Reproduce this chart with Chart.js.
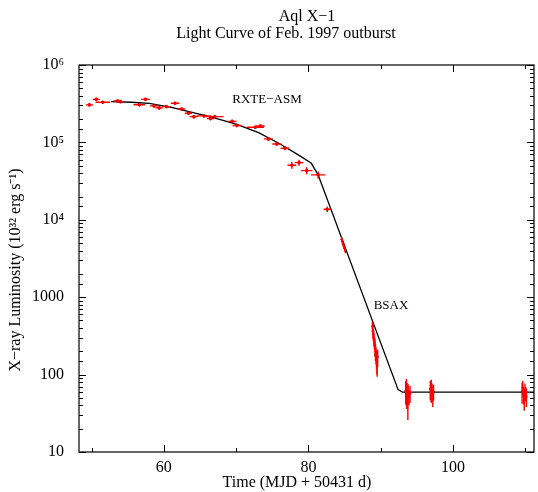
<!DOCTYPE html>
<html>
<head>
<meta charset="utf-8">
<script src="https://cdn.jsdelivr.net/npm/chart.js@4.4.1/dist/chart.umd.min.js"></script>
<style>
  body { margin: 0; background: #fff; }
</style>
</head>
<body>
<canvas id="myChart" width="538" height="492"></canvas>
<script>
// RXTE-ASM points (time, luminosity, errors)
var asmTime = [49.7, 50.65, 51.55, 53.6, 54.0, 56.6, 57.45, 58.65, 59.35, 60.35, 61.55, 62.45, 63.4, 64.15, 65.55, 66.45, 67.05, 69.45, 70.1, 72.65, 73.35, 74.45, 75.6, 76.75, 77.7, 78.7, 79.75, 81.35, 82.6];
var asmLum = [3.05e5, 3.6e5, 3.3e5, 3.43e5, 3.36e5, 3.07e5, 3.6e5, 2.96e5, 2.79e5, 2.9e5, 3.2e5, 2.7e5, 2.38e5, 2.15e5, 2.2e5, 2.03e5, 2.15e5, 1.87e5, 1.65e5, 1.57e5, 1.63e5, 1.11e5, 9.55e4, 8.4e4, 5.07e4, 5.48e4, 4.32e4, 3.8e4, 1.37e4];
var asmTimeErr = [0.5, 0.5, 1.0, 0.6, 0.5, 0.8, 0.6, 0.6, 0.5, 0.6, 0.6, 0.5, 0.5, 0.6, 1.0, 0.5, 1.2, 0.6, 0.6, 1.2, 0.6, 0.6, 0.6, 0.6, 0.6, 0.6, 0.8, 1.0, 0.5];
var asmLumErr = [1.5e4, 1.8e4, 1.6e4, 1.7e4, 1.6e4, 1.5e4, 1.8e4, 1.5e4, 1.4e4, 1.4e4, 1.6e4, 1.3e4, 1.2e4, 1.1e4, 1.1e4, 1.0e4, 1.1e4, 9e3, 8e3, 8e3, 8e3, 6e3, 5e3, 5e3, 5e3, 5e3, 4.5e3, 4e3, 1.2e3];

// BeppoSAX points
var saxTime = [84.6, 84.7, 84.8, 84.9, 85.0, 85.1,
  88.85, 88.92, 88.99, 89.06, 89.13, 89.2, 89.27, 89.34, 89.41, 89.48, 89.5, 89.57,
  93.45, 93.5, 93.55, 93.6, 93.65, 93.7, 93.75, 93.8, 93.9, 94.05,
  96.85, 96.95, 97.0, 97.05, 97.1, 97.2, 97.3,
  109.55, 109.65, 109.75, 109.85, 109.95, 110.05, 110.15];
var saxLum = [5600, 5200, 4900, 4600, 4300, 4000,
  420, 360, 330, 290, 260, 230, 200, 180, 160, 150, 130, 170,
  62, 55, 70, 50, 58, 48, 42, 60, 52, 57,
  65, 58, 70, 55, 62, 50, 60,
  60, 68, 55, 50, 63, 57, 52];
var saxLumErr = [400, 400, 350, 350, 300, 300,
  60, 70, 60, 60, 50, 60, 50, 45, 40, 50, 36, 40,
  20, 15, 18, 14, 20, 12, 16, 15, 12, 14,
  18, 14, 16, 12, 15, 12, 14,
  18, 15, 14, 16, 14, 12, 14];
var saxTimeErr = saxTime.map(function () { return 0.04; });

// model curve
var modelTime = [52.7, 55.5, 58.0, 61.2, 63.9, 66.7, 69.9, 73.1, 75.9, 78.6, 80.4, 81.35, 92.4, 93.0, 111.2];
var modelLum = [3.36e5, 3.3e5, 3.2e5, 2.81e5, 2.45e5, 2.11e5, 1.73e5, 1.34e5, 9.75e4, 6.9e4, 5.37e4, 3.8e4, 64, 59.5, 59.5];

var yTickValues = [10, 100, 1000, 1e4, 1e5, 1e6];
var yTickLabels = ['10', '100', '1000', '10⁴', '10⁵', '10⁶'];
var xTickValues = [60, 80, 100];

var serif = '"Liberation Serif", "Times New Roman", serif';

function points(xs, ys) {
    return xs.map(function (x, i) { return {x: x, y: ys[i]}; });
}

var errorBars = {
    id: 'errorBars',
    afterDatasetsDraw: function (chart) {
        var ctx = chart.ctx, x = chart.scales.x, y = chart.scales.y;
        ctx.save();
        chart.data.datasets.forEach(function (ds) {
            if (!ds.xErr) return;
            ctx.strokeStyle = 'rgb(255,0,0)';
            ctx.lineWidth = 1.4;
            ds.data.forEach(function (p, i) {
                var px = x.getPixelForValue(p.x), py = y.getPixelForValue(p.y);
                ctx.beginPath();
                ctx.moveTo(x.getPixelForValue(p.x - ds.xErr[i]), py);
                ctx.lineTo(x.getPixelForValue(p.x + ds.xErr[i]), py);
                ctx.moveTo(px, y.getPixelForValue(p.y - ds.yErr[i]));
                ctx.lineTo(px, y.getPixelForValue(p.y + ds.yErr[i]));
                ctx.stroke();
            });
        });
        ctx.restore();
    }
};

// box + inward ticks on all four sides, titles and notes
var frame = {
    id: 'frame',
    afterDraw: function (chart) {
        var ctx = chart.ctx, a = chart.chartArea, x = chart.scales.x, y = chart.scales.y;
        ctx.save();
        ctx.strokeStyle = '#000';
        ctx.lineWidth = 1.2;
        ctx.strokeRect(a.left, a.top, a.right - a.left, a.bottom - a.top);
        ctx.lineWidth = 1;
        ctx.beginPath();
        x.ticks.forEach(function (t) {
            var px = Math.round(x.getPixelForValue(t.value)) + 0.5;
            var len = xTickValues.indexOf(t.value) >= 0 ? 7 : 4;
            ctx.moveTo(px, a.bottom); ctx.lineTo(px, a.bottom - len);
            ctx.moveTo(px, a.top); ctx.lineTo(px, a.top + len);
        });
        y.ticks.forEach(function (t) {
            var py = Math.round(y.getPixelForValue(t.value)) + 0.5;
            var major = Math.abs(Math.log10(t.value) - Math.round(Math.log10(t.value))) < 1e-6;
            var len = major ? 7 : 4;
            ctx.moveTo(a.left, py); ctx.lineTo(a.left + len, py);
            ctx.moveTo(a.right, py); ctx.lineTo(a.right - len, py);
        });
        ctx.stroke();

        ctx.fillStyle = '#000';
        ctx.textAlign = 'center';
        ctx.textBaseline = 'alphabetic';
        ctx.font = '16px ' + serif;
        ctx.fillText('Aql X−1', 307, 21);
        ctx.fillText('Light Curve of Feb. 1997 outburst', 286, 37.5);
        ctx.fillText('Time (MJD + 50431 d)', 297, 487);
        ctx.save();
        ctx.translate(20, 270);
        ctx.rotate(-Math.PI / 2);
        ctx.fillText('X−ray Luminosity (10³² erg s⁻¹)', 0, 0);
        ctx.restore();
        ctx.font = '13px ' + serif;
        ctx.textBaseline = 'middle';
        ctx.fillText('RXTE−ASM', 267, 100);
        ctx.fillText('BSAX', 391, 306);
        ctx.restore();
    }
};

var ctx = document.getElementById("myChart").getContext('2d');
var myChart = new Chart(ctx, {
    data: {
        datasets: [{
            type: 'line',
            label: 'model',
            data: points(modelTime, modelLum),
            borderColor: '#000',
            borderWidth: 1.3,
            pointRadius: 0,
            fill: false,
            tension: 0
        }, {
            type: 'scatter',
            label: 'RXTE-ASM',
            data: points(asmTime, asmLum),
            xErr: asmTimeErr,
            yErr: asmLumErr,
            backgroundColor: 'rgb(255,0,0)',
            borderColor: 'rgb(255,0,0)',
            pointRadius: 1.8,
            borderWidth: 0
        }, {
            type: 'scatter',
            label: 'BSAX',
            data: points(saxTime, saxLum),
            xErr: saxTimeErr,
            yErr: saxLumErr,
            backgroundColor: 'rgb(255,0,0)',
            borderColor: 'rgb(255,0,0)',
            pointRadius: 1.3,
            borderWidth: 0
        }]
    },
    options: {
        responsive: false,
        animation: false,
        layout: { padding: { top: 65, right: 1, left: 0, bottom: 0 } },
        plugins: {
            legend: { display: false },
            title: { display: false },
            tooltip: { enabled: false }
        },
        scales: {
            x: {
                type: 'linear',
                min: 48.26,
                max: 111.2,
                grid: { display: false, drawTicks: false },
                border: { display: false },
                ticks: {
                    stepSize: 10,
                    includeBounds: false,
                    autoSkip: false,
                    maxRotation: 0,
                    padding: 6,
                    color: '#000',
                    font: { family: serif, size: 16 },
                    callback: function (v) { return xTickValues.indexOf(v) >= 0 ? String(v) : ''; }
                },
                afterFit: function (scale) { scale.height = 40; }
            },
            y: {
                type: 'logarithmic',
                min: 10,
                max: 1e6,
                grid: { display: false, drawTicks: false },
                border: { display: false },
                ticks: {
                    autoSkip: false,
                    padding: 15,
                    color: '#000',
                    font: { family: serif, size: 16 },
                    callback: function (v) {
                        for (var i = 0; i < yTickValues.length; i++) {
                            if (Math.abs(Math.log10(v) - Math.log10(yTickValues[i])) < 1e-6) return yTickLabels[i];
                        }
                        return '';
                    }
                },
                afterFit: function (scale) { scale.width = 79; }
            }
        }
    },
    plugins: [errorBars, frame]
});
</script>
</body>
</html>
